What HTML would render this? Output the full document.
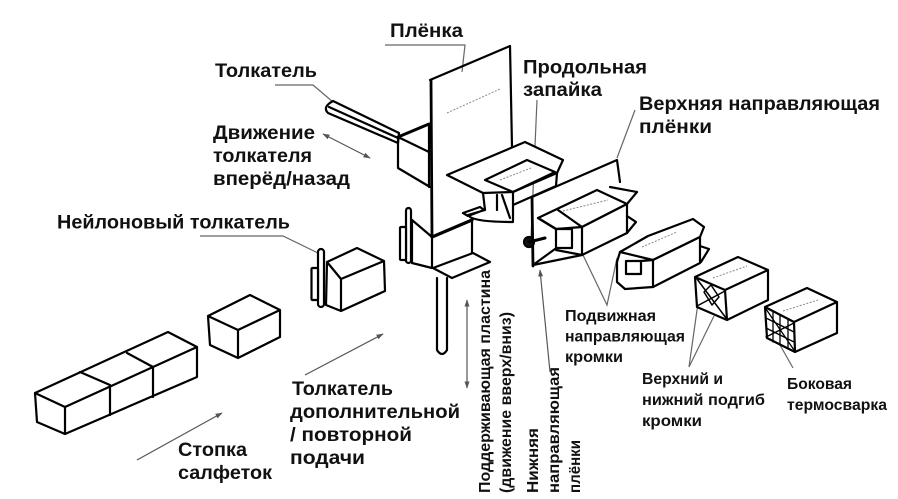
<!DOCTYPE html>
<html><head><meta charset="utf-8"><style>
html,body{margin:0;padding:0;background:#fff;}
svg{display:block;}
text{font-family:"Liberation Sans","DejaVu Sans",sans-serif;font-weight:bold;fill:#111;}
</style></head><body>
<svg width="898" height="499" viewBox="0 0 898 499" xmlns="http://www.w3.org/2000/svg">
<defs>
<marker id="ah" viewBox="0 0 10 10" refX="9" refY="5" markerWidth="6" markerHeight="6" orient="auto-start-reverse"><path d="M0,1.5 L10,5 L0,8.5 z" fill="#555"/></marker>
</defs>
<rect width="898" height="499" fill="#fff"/>

<!-- leader lines -->
<g stroke="#666" stroke-width="1.2" fill="none">
<polyline points="385,45 465,45 462,72"/>
<polyline points="275,85 313,85 333,102"/>
<polyline points="200,236 283,236 318,253"/>
<polyline points="537,100 531,238"/>
<polyline points="635,110 617,158"/>
<polyline points="582,253 607,305 617,258"/>
<polyline points="698,303 689,367 714,316"/>
<polyline points="780,345 793,368"/>
</g>
<g stroke="#555" stroke-width="1.2" fill="none">
<line x1="137" y1="460" x2="222" y2="413" marker-end="url(#ah)"/>
<line x1="305" y1="375" x2="383" y2="334" marker-end="url(#ah)"/>
<line x1="467" y1="300" x2="467" y2="388" marker-start="url(#ah)" marker-end="url(#ah)"/>
<line x1="323" y1="134" x2="370" y2="158" marker-start="url(#ah)" marker-end="url(#ah)"/>
<line x1="550" y1="372" x2="540" y2="270" marker-end="url(#ah)"/>
</g>

<g fill="none" stroke="#000" stroke-width="2.2" stroke-linejoin="round" stroke-linecap="round">
<!-- napkin row -->
<path d="M35,393 L168,332 L197,347 L197,377 L65,434 L37,422 Z M35,393 L65,407 L197,347 M65,407 L65,434 M80,372 L110,385 L110,415 M127,353 L153,367 L153,397"/>
<!-- single box -->
<path d="M208,316 L250,295 L280,310 L280,337 L238,358 L210,345 Z M208,316 L238,330 L280,310 M238,330 L238,358"/>
<!-- nylon pusher box -->
<path d="M327,262 L357,248 L384,261 L385,291 L341,311 L326,305 Z M327,262 L341,279 L384,261 M341,279 L341,311" fill="#fff"/>
<rect x="318" y="249" width="6" height="58" rx="3" fill="#fff"/>
<rect x="311.5" y="268" width="6.5" height="32" rx="1" fill="#fff"/>

<!-- pusher rod -->
<path d="M333,101 L399,133 L398,143 L328,113 Q322,107 333,101 Z M329,107 L398,138" fill="#fff"/>
<!-- pusher head -->
<path d="M398,137 L429,152 M398,137 L398,168 L430,187 M429,124 L429,187"/>
<path d="M398,137 L429,124" stroke-width="3"/>

<!-- film -->
<path d="M430,80 L510,46 L512,147"/>
<path d="M431,80 L432,237" stroke-width="2.8"/>

<!-- lower box -->
<path d="M432,237 L432,268 M412,220 L432,237 M412,220 L412,263 L432,268 M472,220 L472,253"/>
<path d="M432,237 L472,220" stroke-width="3.2"/>
<rect x="406" y="208" width="5" height="55" rx="2.5" fill="#fff"/>
<rect x="400" y="227" width="6" height="33" rx="1" fill="#fff"/>
<path d="M433,268 L473,253 L490,262 L452,278 Z" fill="#fff"/>
<path d="M437,278 L437,350 Q442,358 447,350 L447,278" fill="#fff"/>

<!-- tray -->
<path d="M447,175 L525,142 L563,160 L557,173 L513,192 L483,193 Z" fill="#fff"/>
<path d="M485,180 L527,160 L555,172 L513,192 Z"/>
<path d="M483,193 L485,210 M513,192 L513,221 M557,173 L556,186 L513,205 M497,195 L497,210 M502,195 L510,218 M468,215 L485,210 M470,217 Q478,222 513,222 M463,213 L480,207 L484,210 L468,216 Z"/>

<!-- upper guide plate -->
<path d="M532,197 L617,160 L620,182"/>
<path d="M532,197 L533,266" stroke-width="2.8"/>

<!-- moving guide box A -->
<path d="M538,218 L597,190 L627,204 L582,227 L556,229 Z" fill="#fff"/>
<path d="M558,210 L582,227"/>
<path d="M582,227 L627,204 L627,233 L582,255 Z" fill="#fff"/>
<path d="M538,218 L556,229 L556,250 L582,255 M533,265 L582,255 M533,265 L555,249 M556,229 L572,229 L572,248 L556,248 Z M610,187 L637,192 L627,204 M627,216 L636,222 L627,233"/>
<circle cx="529" cy="242" r="5" fill="#111"/>
<path d="M529,242 L545,238" stroke-width="3"/>

<!-- box B -->
<path d="M620,252 L648,236 L693,219 L704,227 L700,237 L653,260 Z" fill="#fff"/>
<path d="M653,260 L700,237 L700,263 L653,287 Z" fill="#fff"/>
<path d="M620,252 L617,262 L617,282 L625,289 L653,287 M626,261 L641,261 L641,274 L626,274 Z M641,261 L653,260 M700,246 L709,249 L701,262"/>

<!-- box C -->
<path d="M695,277 L738,257 L768,270 L725,290 Z M725,290 L768,270 L768,300 L727,320 Z M695,277 L725,290 L727,320 L697,307 Z" fill="#fff"/>
<path d="M697,279 L726,318 M697,306 L725,291 M704,292 L711,285 L719,297 L712,305 Z" stroke-width="1.5"/>

<!-- box D -->
<path d="M765,307 L807,288 L837,302 L794,322 Z M794,322 L837,302 L837,333 L795,352 Z M765,307 L794,322 L795,352 L767,338 Z" fill="#fff"/>
<path d="M773,311 L773,342 M780,315 L780,345 M788,319 L788,349 M766,318 L794,332 M766,328 L794,342 M766,309 L794,350 M766,337 L794,323" stroke-width="1.3"/>
</g>

<!-- dashed textures -->
<g stroke="#888" stroke-width="1" stroke-dasharray="2,1.5" fill="none">
<line x1="447" y1="113" x2="500" y2="89"/>
<line x1="500" y1="180" x2="531" y2="168"/>
<line x1="563" y1="211" x2="608" y2="200"/>
<line x1="642" y1="247" x2="677" y2="232"/>
<line x1="713" y1="278" x2="747" y2="266"/>
<line x1="783" y1="311" x2="818" y2="300"/>
</g>

<!-- labels large -->
<g>
<text x="390" y="37" font-size="19" textLength="73" lengthAdjust="spacingAndGlyphs">Плёнка</text>
<text x="215" y="77" font-size="19" textLength="102" lengthAdjust="spacingAndGlyphs">Толкатель</text>
<text x="213" y="139" font-size="19" textLength="102" lengthAdjust="spacingAndGlyphs">Движение</text>
<text x="213" y="162" font-size="19" textLength="99" lengthAdjust="spacingAndGlyphs">толкателя</text>
<text x="213" y="185" font-size="19" textLength="137" lengthAdjust="spacingAndGlyphs">вперёд/назад</text>
<text x="57" y="228.5" font-size="19" textLength="233" lengthAdjust="spacingAndGlyphs">Нейлоновый толкатель</text>
<text x="523" y="73.5" font-size="19" textLength="124" lengthAdjust="spacingAndGlyphs">Продольная</text>
<text x="523" y="96" font-size="19" textLength="79" lengthAdjust="spacingAndGlyphs">запайка</text>
<text x="639" y="110" font-size="19" textLength="241" lengthAdjust="spacingAndGlyphs">Верхняя направляющая</text>
<text x="639" y="133" font-size="19" textLength="73" lengthAdjust="spacingAndGlyphs">плёнки</text>
<text x="292" y="395" font-size="19" textLength="101" lengthAdjust="spacingAndGlyphs">Толкатель</text>
<text x="290" y="418" font-size="19" textLength="170" lengthAdjust="spacingAndGlyphs">дополнительной</text>
<text x="290" y="441" font-size="19" textLength="122" lengthAdjust="spacingAndGlyphs">/ повторной</text>
<text x="290" y="464" font-size="19" textLength="75" lengthAdjust="spacingAndGlyphs">подачи</text>
<text x="178" y="456" font-size="19" textLength="69" lengthAdjust="spacingAndGlyphs">Стопка</text>
<text x="178" y="479" font-size="19" textLength="94" lengthAdjust="spacingAndGlyphs">салфеток</text>
</g>

<!-- labels small -->
<g>
<text x="565" y="321" font-size="16" textLength="91" lengthAdjust="spacingAndGlyphs">Подвижная</text>
<text x="565" y="341.5" font-size="16" textLength="120" lengthAdjust="spacingAndGlyphs">направляющая</text>
<text x="565" y="362" font-size="16" textLength="58" lengthAdjust="spacingAndGlyphs">кромки</text>
<text x="642" y="384" font-size="16" textLength="81" lengthAdjust="spacingAndGlyphs">Верхний и</text>
<text x="642" y="405" font-size="16" textLength="123" lengthAdjust="spacingAndGlyphs">нижний подгиб</text>
<text x="642" y="426" font-size="16" textLength="60" lengthAdjust="spacingAndGlyphs">кромки</text>
<text x="787" y="389" font-size="16" textLength="65" lengthAdjust="spacingAndGlyphs">Боковая</text>
<text x="787" y="410" font-size="16" textLength="100" lengthAdjust="spacingAndGlyphs">термосварка</text>
</g>

<!-- vertical labels -->
<g>
<text transform="translate(490,493) rotate(-90)" font-size="16" textLength="223" lengthAdjust="spacingAndGlyphs">Поддерживающая пластина</text>
<text transform="translate(511,493) rotate(-90)" font-size="16" textLength="181" lengthAdjust="spacingAndGlyphs">(движение вверх/вниз)</text>
<text transform="translate(538,493) rotate(-90)" font-size="16" textLength="65" lengthAdjust="spacingAndGlyphs">Нижняя</text>
<text transform="translate(559,493) rotate(-90)" font-size="16" textLength="126" lengthAdjust="spacingAndGlyphs">направляющая</text>
<text transform="translate(580,493) rotate(-90)" font-size="16" textLength="53" lengthAdjust="spacingAndGlyphs">плёнки</text>
</g>
</svg>
</body></html>
